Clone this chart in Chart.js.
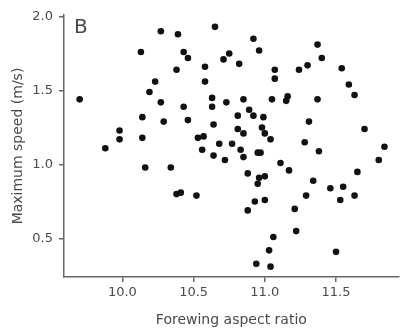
<!DOCTYPE html>
<html>
<head>
<meta charset="utf-8">
<script src="https://cdn.jsdelivr.net/npm/chart.js@4/dist/chart.umd.min.js"></script>
<style>
  html, body { margin:0; padding:0; background:#fff; }
  #wrap { width:402px; height:333px; }
</style>
</head>
<body>
<div id="wrap"><canvas id="chart" width="402" height="333"></canvas></div>
<script>
// forewing aspect ratio (x) and maximum speed in m/s (y), one entry per individual
var aspectRatio = [
  9.70, 9.88, 9.98, 9.98, 10.13, 10.14, 10.14, 10.16, 10.23, 10.19,
  10.27, 10.27, 10.29, 10.34, 10.39, 10.38, 10.38, 10.41, 10.43, 10.46,
  10.43, 10.46, 10.52, 10.53, 10.57, 10.56, 10.58, 10.58, 10.63, 10.63,
  10.64, 10.64, 10.65, 10.68, 10.72, 10.73, 10.71, 10.75, 10.77, 10.81,
  10.81, 10.82, 10.85, 10.85, 10.83, 10.85, 10.88, 10.88, 10.89, 10.92,
  10.92, 10.93, 10.94, 10.96, 10.95, 10.97, 10.96, 10.95, 10.98, 10.99,
  11.00, 11.00, 11.00, 11.04, 11.03, 11.04, 11.06, 11.05, 11.07, 11.07,
  11.11, 11.15, 11.16, 11.17, 11.21, 11.22, 11.24, 11.28, 11.30, 11.31,
  11.29, 11.34, 11.37, 11.37, 11.40, 11.38, 11.46, 11.50, 11.53, 11.54,
  11.55, 11.59, 11.63, 11.63, 11.65, 11.70, 11.80, 11.84
];
var maxSpeed = [
  1.44, 1.11, 1.23, 1.17, 1.76, 1.32, 1.18, 0.98, 1.56, 1.49,
  1.90, 1.42, 1.29, 0.98, 1.88, 1.64, 0.80, 0.81, 1.76, 1.72,
  1.39, 1.30, 0.79, 1.18, 1.19, 1.10, 1.66, 1.56, 1.45, 1.39,
  1.27, 1.06, 1.93, 1.14, 1.03, 1.42, 1.71, 1.75, 1.14, 1.33,
  1.24, 1.68, 1.44, 1.21, 1.10, 1.05, 0.94, 0.69, 1.37, 1.85,
  1.33, 0.75, 0.33, 1.77, 1.08, 1.08, 0.91, 0.87, 1.25, 1.32,
  1.21, 0.92, 0.76, 1.17, 0.42, 0.31, 0.51, 1.44, 1.64, 1.58,
  1.01, 1.43, 1.46, 0.96, 0.70, 0.55, 1.64, 1.15, 1.67, 1.29,
  0.79, 0.89, 1.81, 1.44, 1.72, 1.09, 0.84, 0.41, 0.76, 1.65,
  0.85, 1.54, 1.47, 0.79, 0.95, 1.24, 1.03, 1.12
];
var xTicks = [10.0, 10.5, 11.0, 11.5];
var yTicks = [0.5, 1.0, 1.5, 2.0];
var panelLabel = 'B';
var xTitle = 'Forewing aspect ratio';
var yTitle = 'Maximum speed (m/s)';

var axisColor = '#666';
var textColor = '#4a4a4a';

var points = aspectRatio.map(function(x, i){ return {x:x, y:maxSpeed[i]}; });

var panelLabelPlugin = {
  id:'panelLabel',
  afterDraw:function(chart){
    var ctx = chart.ctx;
    ctx.save();
    ctx.fillStyle = textColor;
    ctx.font = '20px "DejaVu Sans"';
    ctx.textBaseline = 'alphabetic';
    ctx.fillText(panelLabel, chart.chartArea.left + 10, chart.chartArea.top + 18);
    ctx.restore();
  }
};

new Chart(document.getElementById('chart'), {
  type:'scatter',
  data:{
    datasets:[{
      data:points,
      backgroundColor:'#111',
      borderWidth:0,
      pointRadius:3.3,
      pointHoverRadius:3.3
    }]
  },
  plugins:[panelLabelPlugin],
  options:{
    responsive:false,
    animation:false,
    layout:{padding:{left:6, right:2, top:15, bottom:4}},
    plugins:{legend:{display:false}, tooltip:{enabled:false}},
    scales:{
      x:{
        type:'linear',
        min:9.59,
        max:11.94,
        afterBuildTicks:function(axis){ axis.ticks = xTicks.map(function(v){ return {value:v}; }); },
        afterFit:function(axis){ axis.height = 52; },
        ticks:{
          color:textColor,
          font:{family:'DejaVu Sans', size:13},
          padding:3,
          maxRotation:0,
          callback:function(v){ return Number(v).toFixed(1); }
        },
        grid:{drawOnChartArea:false, drawTicks:true, tickLength:5, color:axisColor, lineWidth:1.5},
        border:{display:true, color:axisColor, width:1.5},
        title:{display:true, text:xTitle, color:textColor, font:{family:'DejaVu Sans', size:14}, padding:{top:2, bottom:0}}
      },
      y:{
        type:'linear',
        min:0.24,
        max:2.01,
        afterBuildTicks:function(axis){ axis.ticks = yTicks.map(function(v){ return {value:v}; }); },
        afterFit:function(axis){ axis.width = 58; },
        ticks:{
          color:textColor,
          font:{family:'DejaVu Sans', size:13},
          padding:6,
          callback:function(v){ return Number(v).toFixed(1); }
        },
        grid:{drawOnChartArea:false, drawTicks:true, tickLength:5, color:axisColor, lineWidth:1.5},
        border:{display:true, color:axisColor, width:1.5},
        title:{display:true, text:yTitle, color:textColor, font:{family:'DejaVu Sans', size:14}, padding:{top:4, bottom:0}}
      }
    }
  }
});
</script>
</body>
</html>
